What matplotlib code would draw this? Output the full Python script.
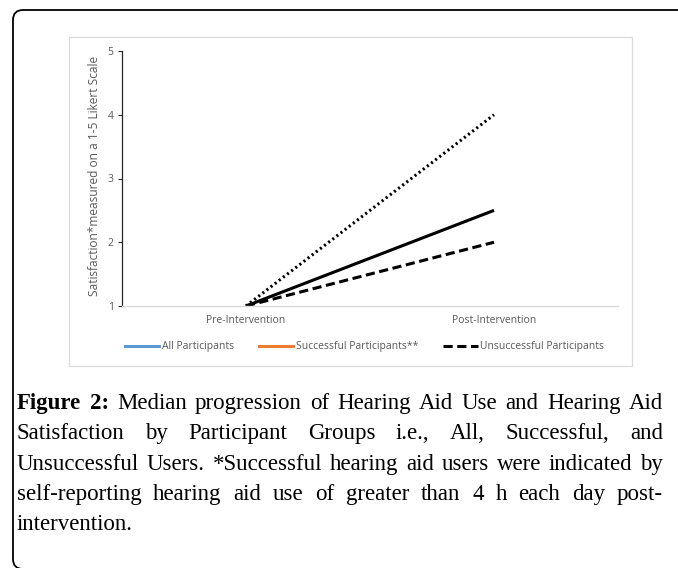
import matplotlib
matplotlib.use("Agg")
import matplotlib.pyplot as plt
from matplotlib.lines import Line2D
from matplotlib.patches import FancyBboxPatch, Rectangle
from matplotlib.transforms import IdentityTransform

# data
categories = ["Pre-Intervention", "Post-Intervention"]
all_participants = [1, 2.5]
successful_participants = [1, 4]
unsuccessful_participants = [1, 2]
y_ticks = [1, 2, 3, 4, 5]
y_label = "Satisfaction*measured on a 1-5 Likert Scale"
legend_labels = ["All Participants", "Successful Participants**", "Unsuccessful Participants"]

caption_lines = [
    [("Figure", "bold"), ("2:", "bold"), ("Median", "normal"), ("progression", "normal"), ("of", "normal"),
     ("Hearing", "normal"), ("Aid", "normal"), ("Use", "normal"), ("and", "normal"), ("Hearing", "normal"),
     ("Aid", "normal")],
    "Satisfaction by Participant Groups i.e., All, Successful, and",
    "Unsuccessful Users. *Successful hearing aid users were indicated by",
    "self-reporting hearing aid use of greater than 4 h each day post-",
    "intervention.",
]

W, H = 678, 568
GRAY = "#595959"
CHART_FONT = ["Open Sans", "DejaVu Sans"]
SERIF = ["Liberation Serif", "DejaVu Serif"]


def px(x, y):
    """pixel (top-left origin) -> figure fraction"""
    return x / W, 1 - y / H


fig = plt.figure(figsize=(W / 100, H / 100), dpi=100)

# outer frame of the figure panel (right and bottom edges run off the page)
frame = FancyBboxPatch((13, -1), 700, H - 10 + 1, boxstyle="round,pad=0,rounding_size=10",
                       transform=IdentityTransform(), fill=False, edgecolor="black", linewidth=1.3)
fig.add_artist(frame)

# light gray chart area box
chart_box = Rectangle((69, H - 366), 632 - 69, 366 - 37, transform=IdentityTransform(),
                      fill=False, edgecolor="#d9d9d9", linewidth=0.9)
fig.add_artist(chart_box)

# plot area
left, top, right, bottom = 122, 51, 618, 306
ax = fig.add_axes([left / W, 1 - bottom / H, (right - left) / W, (bottom - top) / H])
x = range(len(categories))
ax.plot(x, all_participants, color="black", linewidth=2.2, solid_capstyle="butt")
ax.plot(x, successful_participants, color="black", linewidth=2.2,
        linestyle=(0, (0.7, 1.0)), dash_capstyle="butt")
ax.plot(x, unsuccessful_participants, color="black", linewidth=2.2,
        linestyle=(0, (3, 1.5)), dash_capstyle="butt")

ax.set_xlim(-0.5, len(categories) - 0.5)
ax.set_ylim(y_ticks[0], y_ticks[-1])
ax.set_xticks(list(x))
ax.set_xticklabels(categories, fontsize=7.5, color=GRAY, family=CHART_FONT)
ax.set_yticks(y_ticks)
ax.set_yticklabels([str(v) for v in y_ticks], fontsize=7.5, color=GRAY, family=CHART_FONT)
ax.tick_params(axis="x", length=0, pad=6.5)
ax.tick_params(axis="y", length=3, width=0.8, color="#262626", pad=3)
for s in ["top", "right"]:
    ax.spines[s].set_visible(False)
ax.spines["left"].set_color("#262626")
ax.spines["left"].set_linewidth(0.9)
ax.spines["bottom"].set_color("#d9d9d9")
ax.spines["bottom"].set_linewidth(1.0)
ax.set_ylabel(y_label, fontsize=8.6, color=GRAY, family=CHART_FONT)
ax.yaxis.label.set_va("center")
ax.yaxis.set_label_coords((94 - left) / (right - left), 0.51)
ax.patch.set_alpha(0)

# legend (colours as in the original, not matching the drawn lines)
handles = [
    Line2D([0], [0], color="#5b9bd5", linewidth=2.2),
    Line2D([0], [0], color="#ed7d31", linewidth=2.2),
    Line2D([0], [0], color="black", linewidth=2.2, linestyle=(0, (3, 1.5))),
]
fig.legend(handles, legend_labels, loc="center left", bbox_to_anchor=px(125, 347), ncol=3,
           frameon=False, borderpad=0, borderaxespad=0, handlelength=3.3, handletextpad=0.25,
           columnspacing=2.4, prop={"family": CHART_FONT, "size": 7.5}, labelcolor=GRAY)

# caption, justified by hand
fig.canvas.draw()
renderer = fig.canvas.get_renderer()
CAP_SIZE = 16.5
cap_left, cap_right = 17, 663
baselines = [409, 439, 470, 500, 530]


def text_width(s, weight):
    t = fig.text(0, 0, s, fontsize=CAP_SIZE, family=SERIF, weight=weight)
    w = t.get_window_extent(renderer=renderer).width
    t.remove()
    return w


for i, line in enumerate(caption_lines):
    if isinstance(line, str):
        words = [(w, "normal") for w in line.split()]
    else:
        words = line
    widths = [text_width(w, wt) for w, wt in words]
    last = i == len(caption_lines) - 1
    if last or len(words) == 1:
        gap = text_width("a b", "normal") - text_width("ab", "normal")
    else:
        gap = (cap_right - cap_left - sum(widths)) / (len(words) - 1)
    xpos = cap_left
    for (w, wt), wd in zip(words, widths):
        fx, fy = px(xpos, baselines[i])
        fig.text(fx, fy, w, fontsize=CAP_SIZE, family=SERIF, weight=wt,
                 va="baseline", ha="left", color="black")
        xpos += wd + gap

fig.savefig("out.png", dpi=100)
